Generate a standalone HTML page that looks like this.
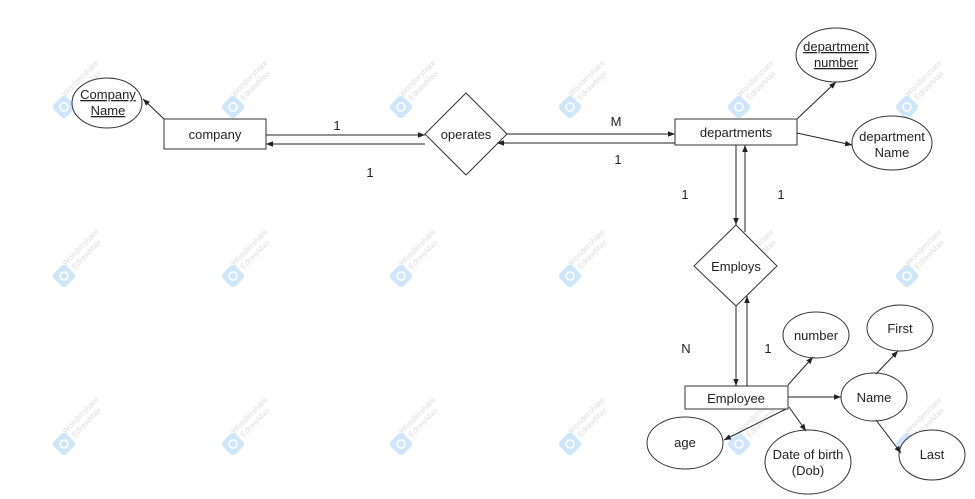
<!DOCTYPE html>
<html><head><meta charset="utf-8"><style>
html,body{margin:0;padding:0;background:#fff;}
svg{display:block;}
text{font-family:"Liberation Sans",Arial,sans-serif;font-size:13px;fill:#222;}
.wm rect{fill:#cfe5fb;}
.wm text{font-size:8px;fill:#ddd;}
</style></head><body>
<svg width="975" height="499" viewBox="0 0 975 499" xmlns="http://www.w3.org/2000/svg">
<defs>
<marker id="a" viewBox="0 0 10 10" refX="10" refY="5" markerWidth="7" markerHeight="7" orient="auto-start-reverse"><path d="M0,1 L10,5 L0,9 z" fill="#222"/></marker>
<g id="w" class="wm"><rect x="-9" y="-9" width="18" height="18" rx="4" transform="rotate(45)"/><circle r="4" fill="none" stroke="#fff" stroke-width="1.6"/><text x="8" y="-6" transform="rotate(-45)">Wondershare</text><text x="12" y="3" transform="rotate(-45)">EdrawMax</text></g>
</defs>
<g>
<use href="#w" x="64" y="107"/><use href="#w" x="233" y="107"/><use href="#w" x="401" y="107"/><use href="#w" x="570" y="107"/><use href="#w" x="739" y="107"/><use href="#w" x="907" y="107"/>
<use href="#w" x="64" y="276"/><use href="#w" x="233" y="276"/><use href="#w" x="401" y="276"/><use href="#w" x="570" y="276"/><use href="#w" x="739" y="276"/><use href="#w" x="907" y="276"/>
<use href="#w" x="64" y="444"/><use href="#w" x="233" y="444"/><use href="#w" x="401" y="444"/><use href="#w" x="570" y="444"/><use href="#w" x="739" y="444"/><use href="#w" x="907" y="444"/>
</g>
<g fill="#fff" stroke="#333" stroke-width="1">
<ellipse cx="107" cy="103" rx="35" ry="25"/>
<rect x="164" y="119" width="102" height="30"/>
<polygon points="466,93 507,134 466,175 425,134"/>
<rect x="675" y="119" width="122" height="26"/>
<ellipse cx="836" cy="55" rx="40" ry="27"/>
<ellipse cx="892" cy="143" rx="40" ry="27"/>
<polygon points="736,225 777,266 736,306 694,266"/>
<rect x="685" y="386" width="103" height="23"/>
<ellipse cx="816" cy="335" rx="33" ry="23"/>
<ellipse cx="874" cy="397" rx="33" ry="24"/>
<ellipse cx="900" cy="328" rx="33" ry="23"/>
<ellipse cx="932" cy="455" rx="33" ry="25"/>
<ellipse cx="685" cy="443" rx="38" ry="26"/>
<ellipse cx="808" cy="462" rx="43" ry="32"/>
</g>
<g stroke="#222" stroke-width="1" fill="none" marker-end="url(#a)">
<line x1="164" y1="119" x2="143" y2="99"/>
<line x1="266" y1="135" x2="425" y2="135"/>
<line x1="425" y1="144" x2="266" y2="144"/>
<line x1="507" y1="134" x2="675" y2="134"/>
<line x1="675" y1="143" x2="497" y2="143"/>
<line x1="797" y1="119" x2="836" y2="82"/>
<line x1="797" y1="133" x2="852" y2="145"/>
<line x1="736" y1="145" x2="736" y2="225"/>
<line x1="745" y1="232" x2="745" y2="145"/>
<line x1="736" y1="306" x2="736" y2="386"/>
<line x1="747" y1="386" x2="747" y2="296"/>
<line x1="788" y1="385" x2="813" y2="357"/>
<line x1="788" y1="397" x2="841" y2="397"/>
<line x1="876" y1="374" x2="898" y2="351"/>
<line x1="876" y1="420" x2="901" y2="453"/>
<line x1="786" y1="409" x2="724" y2="440"/>
<line x1="789" y1="407" x2="806" y2="431"/>
</g>
<g text-anchor="middle">
<text x="108" y="99" text-decoration="underline">Company</text>
<text x="108" y="115" text-decoration="underline">Name</text>
<text x="215" y="139">company</text>
<text x="466" y="139">operates</text>
<text x="736" y="137">departments</text>
<text x="836" y="51" text-decoration="underline">department</text>
<text x="836" y="67" text-decoration="underline">number</text>
<text x="892" y="141">department</text>
<text x="892" y="157">Name</text>
<text x="736" y="271">Employs</text>
<text x="736" y="403">Employee</text>
<text x="816" y="340">number</text>
<text x="874" y="402">Name</text>
<text x="900" y="333">First</text>
<text x="932" y="459">Last</text>
<text x="685" y="447">age</text>
<text x="808" y="459">Date of birth</text>
<text x="808" y="475">(Dob)</text>
<text x="337" y="130">1</text>
<text x="370" y="177">1</text>
<text x="616" y="126">M</text>
<text x="618" y="164">1</text>
<text x="685" y="199">1</text>
<text x="781" y="199">1</text>
<text x="686" y="353">N</text>
<text x="768" y="353">1</text>
</g>
</svg>
</body></html>
